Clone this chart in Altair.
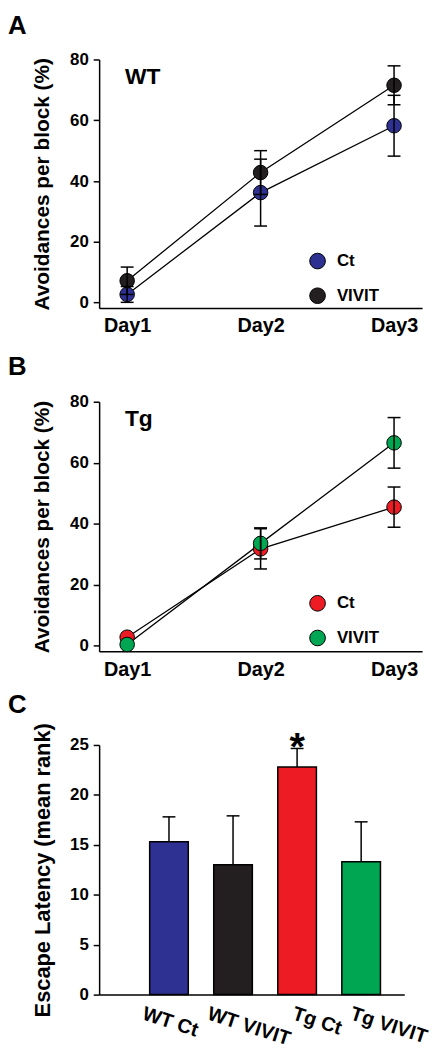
import altair as alt
import pandas as pd

FONT = "Liberation Sans"

days = ["Day1", "Day2", "Day3"]
line_groups = ["Ct", "VIVIT"]

# Panel A (WT)
wt_ct = [2.7, 36.2, 58.2]
wt_ct_err = [2.6, 11.0, 10.0]
wt_vivit = [7.2, 42.8, 71.5]
wt_vivit_err = [4.5, 7.2, 6.4]
wt_colors = ["#2e3192", "#231f20"]

# Panel B (Tg)
tg_ct = [2.7, 31.7, 45.4]
tg_ct_err = [None, 6.6, 6.6]
tg_vivit = [0.3, 33.5, 66.5]
tg_vivit_err = [None, 5.1, 8.3]
tg_colors = ["#ed1c24", "#00a651"]

# Panel C
bar_groups = ["WT Ct", "WT VIVIT", "Tg Ct", "Tg VIVIT"]
bar_values = [15.3, 13.0, 22.8, 13.3]
bar_err = [2.5, 4.9, 1.85, 4.0]
bar_colors = ["#2e3192", "#231f20", "#ed1c24", "#00a651"]
bar_sig = ["", "", "*", ""]


def letter_mark(letter, ypix):
    return alt.Chart(pd.DataFrame({"t": [letter]})).mark_text(
        align="left", baseline="alphabetic", fontSize=26, font=FONT,
        fontWeight="bold", color="black").encode(
        x=alt.value(-92), y=alt.value(ypix), text="t:N")


def line_panel(ct, ct_err, viv, viv_err, colors, label, letter, ymin, height, lety):
    df = pd.DataFrame({
        "day": days * 2,
        "group": ["Ct"] * 3 + ["VIVIT"] * 3,
        "value": ct + viv,
        "err": ct_err + viv_err,
    })
    df["lo"] = df["value"] - df["err"]
    df["hi"] = df["value"] + df["err"]

    x = alt.X("day:N", scale=alt.Scale(type="point", padding=0.21),
              axis=alt.Axis(title=None, ticks=False, labelAngle=0,
                            labelFontSize=20, labelFont=FONT, labelFontWeight="bold",
                            labelPadding=8, labelColor="black",
                            domainColor="black", domainWidth=1.5))
    yscale = alt.Scale(domain=[ymin, 80], nice=False, zero=False)
    yaxis = alt.Axis(title="Avoidances per block (%)", values=[0, 20, 40, 60, 80],
                     grid=False, tickSize=6, tickWidth=1.5, tickColor="black",
                     domainColor="black", domainWidth=1.5,
                     labelFontSize=17, labelFont=FONT, labelFontWeight="bold",
                     labelColor="black", labelPadding=5,
                     titleFontSize=21, titleFont=FONT, titleFontWeight="bold",
                     titleColor="black", titlePadding=17)

    base = alt.Chart(df)
    lines = base.mark_line(color="black", strokeWidth=1.3).encode(
        x=x, y=alt.Y("value:Q", scale=yscale, axis=yaxis), detail="group:N")
    pts = base.mark_circle(size=215, opacity=1, stroke="black", strokeWidth=1).encode(
        x=x, y=alt.Y("value:Q", scale=yscale, axis=yaxis),
        fill=alt.Fill("group:N", scale=alt.Scale(domain=line_groups, range=colors),
                      legend=alt.Legend(title=None, orient="none", legendX=212, legendY=195,
                                        symbolType="circle", symbolSize=250,
                                        symbolStrokeColor="black", symbolStrokeWidth=1,
                                        labelFontSize=17, labelFont=FONT,
                                        labelFontWeight="bold", labelColor="black",
                                        rowPadding=14, labelOffset=11, padding=0)))
    ebase = base.transform_filter("isValid(datum.err)")
    rules = ebase.mark_rule(color="black", strokeWidth=1.5).encode(
        x=x, y=alt.Y("lo:Q", scale=yscale, axis=yaxis), y2="hi:Q")
    cap_lo = ebase.mark_tick(color="black", size=13, thickness=1.5, opacity=1).encode(
        x=x, y=alt.Y("lo:Q", scale=yscale, axis=yaxis))
    cap_hi = ebase.mark_tick(color="black", size=13, thickness=1.5, opacity=1).encode(
        x=x, y=alt.Y("hi:Q", scale=yscale, axis=yaxis))
    txt = alt.Chart(pd.DataFrame({"t": [label]})).mark_text(
        align="left", baseline="alphabetic", fontSize=23, font=FONT,
        fontWeight="bold", color="black").encode(
        x=alt.value(26), y=alt.value(25), text="t:N")

    return alt.layer(lines, pts, rules, cap_lo, cap_hi, txt,
                     letter_mark(letter, lety)).properties(width=326, height=height)


panel_a = line_panel(wt_ct, wt_ct_err, wt_vivit, wt_vivit_err, wt_colors, "WT", "A", -1.8, 251, -26)
panel_b = line_panel(tg_ct, tg_ct_err, tg_vivit, tg_vivit_err, tg_colors, "Tg", "B", -1.95, 252, -27)

dfc = pd.DataFrame({"group": bar_groups, "value": bar_values, "err": bar_err,
                    "color": bar_colors, "sig": bar_sig})
dfc["hi"] = dfc["value"] + dfc["err"]

label_offset = {
    "condition": [
        {"test": "datum.value === 'WT Ct'", "value": -23},
        {"test": "datum.value === 'WT VIVIT'", "value": -22},
        {"test": "datum.value === 'Tg Ct'", "value": -1},
    ],
    "value": -7,
}

xc = alt.X("group:N", sort=bar_groups,
           scale=alt.Scale(paddingInner=0.397, paddingOuter=0.58, align=0.68),
           axis=alt.Axis(title=None, ticks=False, labelAngle=18, labelAlign="left",
                         labelBaseline="top", labelOffset=label_offset, labelPadding=9,
                         labelFontSize=20, labelFont=FONT, labelFontWeight="bold",
                         labelColor="black", domainColor="black", domainWidth=1.5))
ycs = alt.Scale(domain=[0, 25], nice=False)
yca = alt.Axis(title="Escape Latency (mean rank)", values=[0, 5, 10, 15, 20, 25],
               grid=False, tickSize=6, tickWidth=1.5, tickColor="black",
               domainColor="black", domainWidth=1.5,
               labelFontSize=17, labelFont=FONT, labelFontWeight="bold",
               labelColor="black", labelPadding=5,
               titleFontSize=22, titleFont=FONT, titleFontWeight="bold",
               titleColor="black", titlePadding=15)
basec = alt.Chart(dfc)
bars = basec.mark_bar(stroke="black", strokeWidth=1.5, opacity=1).encode(
    x=xc, y=alt.Y("value:Q", scale=ycs, axis=yca), fill=alt.Fill("color:N", scale=None))
crules = basec.mark_rule(color="black", strokeWidth=1.5).encode(
    x=xc, y=alt.Y("value:Q", scale=ycs, axis=yca), y2="hi:Q")
ccaps = basec.mark_tick(color="black", size=13, thickness=1.5, opacity=1).encode(
    x=xc, y=alt.Y("hi:Q", scale=ycs, axis=yca))
star = basec.mark_text(fontSize=40, font=FONT, fontWeight="bold", color="black",
                       baseline="alphabetic", dy=12).encode(
    x=xc, y=alt.Y("hi:Q", scale=ycs, axis=yca), text="sig:N")

panel_c = alt.layer(bars, crules, ccaps, star, letter_mark("C", -32)).properties(
    width=308, height=252)

chart = alt.vconcat(panel_a, panel_b, panel_c, spacing=94.5, bounds="flush").resolve_scale(
    fill="independent").configure(padding=0).configure_view(strokeWidth=0)

chart.save("out.html", embed_options={"renderer": "svg", "actions": False})
